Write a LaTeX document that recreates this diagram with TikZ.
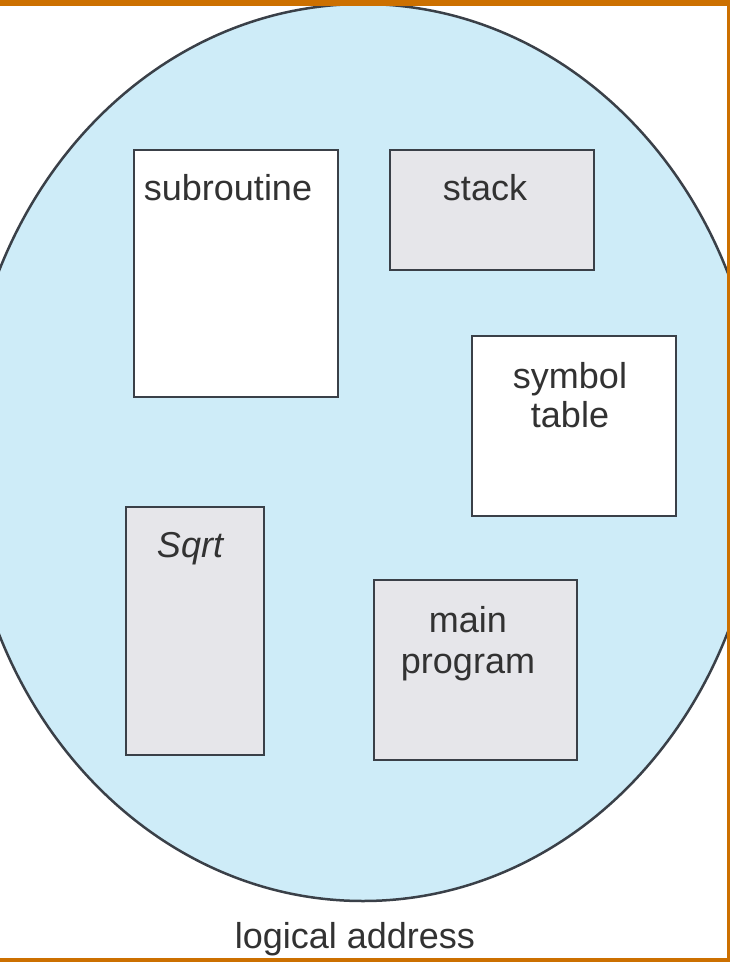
\documentclass[tikz,border=0pt]{standalone}
\usepackage{fontspec}
\setmainfont{Liberation Sans}
\definecolor{skyfill}{RGB}{206,236,248}
\definecolor{edgec}{RGB}{58,64,72}
\definecolor{grayfill}{RGB}{230,230,234}
\definecolor{framec}{RGB}{204,112,0}
\definecolor{txtc}{RGB}{50,50,50}
\tikzset{
  seg/.style={draw=edgec, line width=2pt, rectangle, inner sep=0pt},
  lbl/.style={font=\fontsize{36}{40}\selectfont, text=txtc, anchor=base, inner sep=0pt},
}
\begin{document}
\begin{tikzpicture}[x=1pt,y=-1pt]
\useasboundingbox (0,0) rectangle (730,962);
\fill[white] (0,0) rectangle (730,962);
\begin{scope}
\clip (0,6) rectangle (727,958);
\path[fill=skyfill, draw=edgec, line width=2.5pt] (363,452.5) ellipse [x radius=398, y radius=448.5];
\end{scope}
% frame
\fill[framec] (0,0) rectangle (730,6);
\fill[framec] (727,0) rectangle (730,962);
\fill[framec] (0,958) rectangle (730,962);
% boxes
\node[seg, fill=white, minimum width=204pt, minimum height=247pt] (sub) at (236,273.5) {};
\node[seg, fill=grayfill, minimum width=204pt, minimum height=120pt] (stk) at (492,210) {};
\node[seg, fill=white, minimum width=204pt, minimum height=180pt] (sym) at (574,426) {};
\node[seg, fill=grayfill, minimum width=138pt, minimum height=248pt] (sq) at (195,631) {};
\node[seg, fill=grayfill, minimum width=203pt, minimum height=180pt] (mp) at (475.5,670) {};
% labels
\node[lbl] (tsub) at (228,200) {subroutine};
\node[lbl] (tstk) at (485,200) {stack};
\node[lbl] (tsym1) at (570,388) {symbol};
\node[lbl] (tsym2) at (570,427) {table};
\node[lbl, font=\fontsize{36}{40}\selectfont\itshape] (tsq) at (190,557) {Sqrt};
\node[lbl] (tmp1) at (468,632) {main};
\node[lbl] (tmp2) at (468,673) {program};
\node[lbl] (tla) at (355,948) {logical address};
\end{tikzpicture}
\end{document}
